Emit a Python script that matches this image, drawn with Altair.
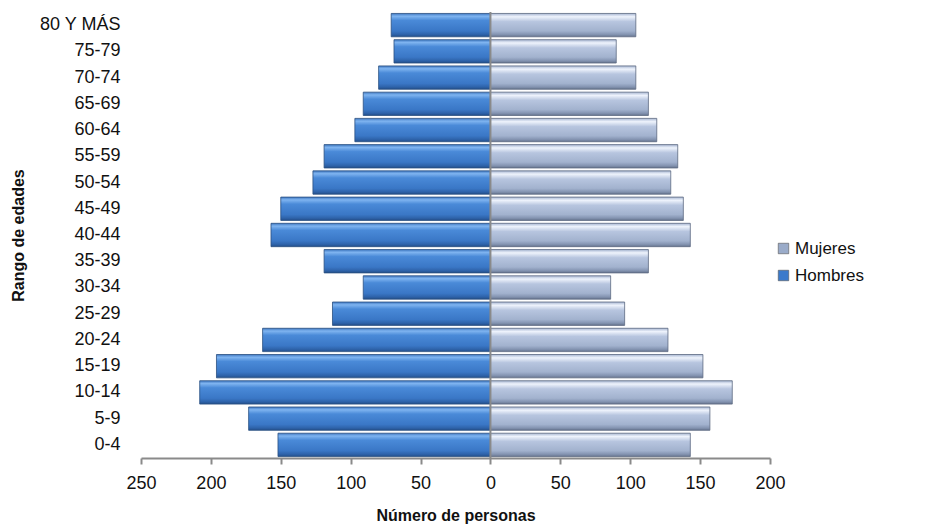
import altair as alt
import pandas as pd

ages = ["0-4", "5-9", "10-14", "15-19", "20-24", "25-29", "30-34", "35-39",
        "40-44", "45-49", "50-54", "55-59", "60-64", "65-69", "70-74", "75-79", "80 Y MÁS"]
hombres = [152, 173, 208, 196, 163, 113, 91, 119, 157, 150, 127, 119, 97, 91, 80, 69, 71]
mujeres = [143, 157, 173, 152, 127, 96, 86, 113, 143, 138, 129, 134, 119, 113, 104, 90, 104]
x_ticks = [-250, -200, -150, -100, -50, 0, 50, 100, 150, 200]
series = ["Mujeres", "Hombres"]

df = pd.DataFrame({"edad": ages, "Hombres": hombres, "Mujeres": mujeres})
long_df = df.melt(id_vars="edad", var_name="sexo", value_name="n")

FONT = "Liberation Sans"

y_enc = alt.Y(
    "edad:N",
    sort=ages[::-1],
    scale=alt.Scale(paddingInner=0.11, paddingOuter=0.055),
    axis=alt.Axis(
        title="Rango de edades",
        titleFont=FONT, titleFontSize=16, titleFontWeight="bold", titleColor="#111",
        titlePadding=12,
        labelFont=FONT, labelFontSize=18, labelColor="#111", labelPadding=21,
        domain=False, ticks=False,
    ),
)
x_scale = alt.Scale(domain=[-250, 200], nice=False, zero=False)
x_axis = alt.Axis(
    title="Número de personas",
    titleFont=FONT, titleFontSize=16, titleFontWeight="bold", titleColor="#111",
    titlePadding=15,
    labelFont=FONT, labelFontSize=18, labelColor="#111", labelPadding=10,
    labelFlush=False, labelOverlap=False,
    values=x_ticks, labelExpr="abs(datum.value)",
    domainColor="#8a8a8a", domainWidth=2, tickColor="#8a8a8a", tickWidth=2, tickSize=6,
    grid=False,
)

grad_h = alt.Gradient(
    gradient="linear", x1=0, y1=0, x2=0, y2=1,
    stops=[
        alt.GradientStop(offset=0.0, color="#3f78c2"),
        alt.GradientStop(offset=0.12, color="#7fb4f0"),
        alt.GradientStop(offset=0.3, color="#4a8ad8"),
        alt.GradientStop(offset=0.75, color="#3a77c6"),
        alt.GradientStop(offset=0.9, color="#2e63aa"),
        alt.GradientStop(offset=1.0, color="#234f8a"),
    ],
)
grad_m = alt.Gradient(
    gradient="linear", x1=0, y1=0, x2=0, y2=1,
    stops=[
        alt.GradientStop(offset=0.0, color="#a7b6d2"),
        alt.GradientStop(offset=0.14, color="#eef3fc"),
        alt.GradientStop(offset=0.35, color="#b7c5df"),
        alt.GradientStop(offset=0.75, color="#a2b2ce"),
        alt.GradientStop(offset=0.9, color="#8494b1"),
        alt.GradientStop(offset=1.0, color="#66748e"),
    ],
)

base = alt.Chart(df)

bars_h = base.transform_calculate(xv="-datum.Hombres").mark_bar(
    fill=grad_h, stroke="#2a4f80", strokeWidth=0.8
).encode(
    x=alt.X("xv:Q", scale=x_scale, axis=x_axis),
    y=y_enc,
)
bars_m = base.mark_bar(
    fill=grad_m, stroke="#5d6a82", strokeWidth=0.8
).encode(
    x=alt.X("Mujeres:Q", scale=x_scale, axis=x_axis),
    y=y_enc,
)

legend_layer = alt.Chart(long_df).mark_square(opacity=0, size=1).encode(
    x=alt.X("n:Q", scale=x_scale, axis=x_axis),
    y=y_enc,
    color=alt.Color(
        "sexo:N",
        scale=alt.Scale(domain=series, range=["#9aabc9", "#3b7acb"]),
        legend=alt.Legend(
            title=None, orient="none", legendX=634, legendY=228,
            symbolType="square", symbolSize=110, symbolOpacity=1,
            symbolStrokeColor="#555", symbolStrokeWidth=0.6,
            labelFont=FONT, labelFontSize=17, labelColor="#111",
            rowPadding=9, labelOffset=3,
        ),
    ),
)

zero_rule = alt.Chart(pd.DataFrame({"z": [0]})).mark_rule(
    color="#8a8a8a", strokeWidth=2
).encode(x=alt.X("z:Q", scale=x_scale))

chart = alt.layer(bars_h, bars_m, zero_rule, legend_layer).properties(
    width=629, height=446,
    padding={"top": 3, "left": 2, "right": 5, "bottom": 5},
).configure(background="white").configure_view(stroke=None)

chart.save("out.html", embed_options={"renderer": "svg", "actions": False})
